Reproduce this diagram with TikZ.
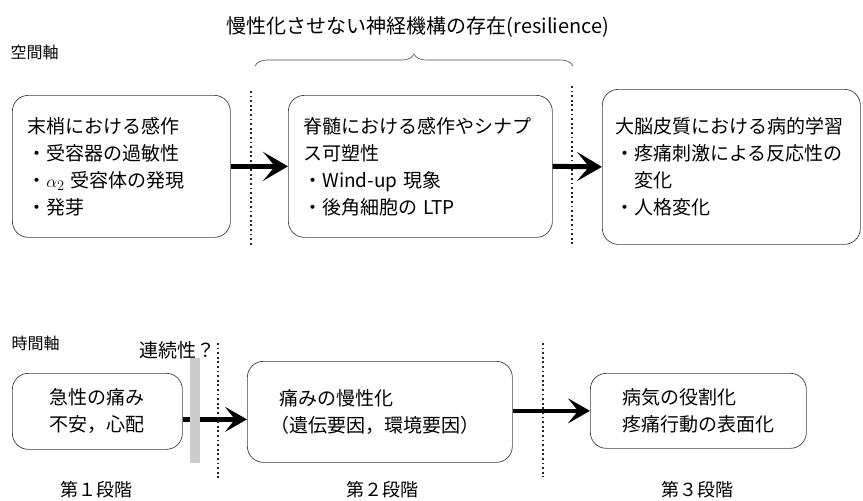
\documentclass[tikz,border=0pt]{standalone}
\usepackage{fontspec}
\newfontfamily\jp{Noto Sans CJK JP}
\usetikzlibrary{arrows.meta,decorations.pathreplacing}
\begin{document}
\begin{tikzpicture}[x=1pt,y=-1pt,
  every node/.style={font=\jp\fontsize{19}{27}\selectfont},
  box/.style={draw=black!75, line width=0.7pt, rounded corners=16pt, align=left, inner xsep=15pt, inner ysep=0pt, anchor=north west},
  bigarrow/.style={line width=5pt, -{Stealth[length=25pt,width=29pt,inset=12pt]}},
  smallarrow/.style={line width=4.5pt, -{Stealth[length=22pt,width=25pt,inset=10pt]}},
  sep/.style={line width=2.4pt, dash pattern=on 1.8pt off 2.8pt, black!85},
  axislbl/.style={font=\jp\fontsize{16}{18}\selectfont, anchor=west},
  stage/.style={font=\jp\fontsize{18}{20}\selectfont}
]
\useasboundingbox (0,0) rectangle (863,501);

% title and brace
\node (title) at (418,27) {\fontsize{20}{24}\selectfont 慢性化させない神経機構の存在(resilience)};
\coordinate (brL) at (255,66);
\coordinate (brR) at (573,66);
\draw[decorate, decoration={brace, amplitude=12pt}, black!70, line width=0.6pt] (brL) -- (brR);

\node[axislbl] (space) at (7,52) {空間軸};

% top boxes
\node[box, minimum width=218pt, minimum height=142pt, text width=188pt] (b1) at (12,95)
  {末梢における感作\\・受容器の過敏性\\・$\alpha_2$ 受容体の発現\\・発芽};
\node[box, minimum width=264pt, minimum height=142pt, text width=234pt, inner xsep=15pt] (b2) at (288,95)
  {脊髄における感作やシナプ\\ス可塑性\\・Wind-up 現象\\・後角細胞の LTP};
\node[box, minimum width=258pt, minimum height=155pt, text width=232pt, inner xsep=13pt] (b3) at (602,89)
  {大脳皮質における病的学習\\・疼痛刺激による反応性の\\　変化\\・人格変化};

% dotted separators top
\coordinate (d1a) at (251,91);
\coordinate (d1b) at (251,247);
\coordinate (d2a) at (572,86);
\coordinate (d2b) at (572,247);
\draw[sep] (d1a) -- (d1b);
\draw[sep] (d2a) -- (d2b);

\draw[bigarrow] (b1.east) -- (b2.west);
\draw[bigarrow] (b2.east) -- (b3.west);

% bottom
\node[axislbl] (time) at (8,343) {時間軸};
\node[anchor=west] (cont) at (136,350) {連続性？};

\node[box, minimum width=170pt, minimum height=76pt] (b4) at (12,373)
  {急性の痛み\\不安，心配};
\node[box, minimum width=265pt, minimum height=101pt] (b5) at (247,361)
  {痛みの慢性化\\\hspace*{-9pt}（遺伝要因，環境要因）};
\node[box, minimum width=216pt, minimum height=75pt] (b6) at (590,373)
  {病気の役割化\\疼痛行動の表面化};

\draw[smallarrow] ([yshift=-8pt]b4.east) -- ([yshift=-8pt]b4.east -| b5.west);
\node[fill=gray!40, minimum width=10pt, minimum height=105pt, inner sep=0pt, anchor=north west] (shade) at (190,358) {};

\coordinate (d3a) at (218,343);
\coordinate (d3b) at (218,478);
\coordinate (d4a) at (543,343);
\coordinate (d4b) at (543,477);
\draw[sep] (d3a) -- (d3b);
\draw[sep] (d4a) -- (d4b);

\draw[smallarrow] (b5.east |- b6.west) -- (b6.west);

\node[stage] (s1) at (96,490) {第１段階};
\node[stage] (s2) at (382,490) {第２段階};
\node[stage] (s3) at (697,490) {第３段階};
\end{tikzpicture}
\end{document}
